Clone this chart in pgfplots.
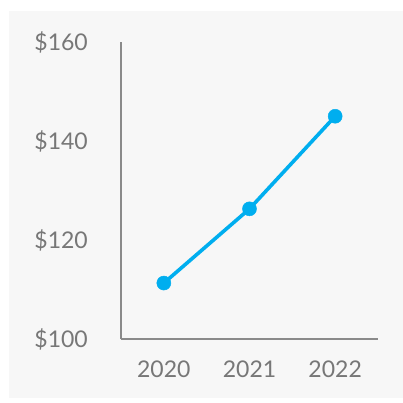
\documentclass[border=0pt]{standalone}
\usepackage{fontspec}
\setmainfont{Lato}
\usepackage{pgfplots}
\pgfplotsset{compat=1.18}
\definecolor{bg}{HTML}{F7F7F7}
\definecolor{ax}{HTML}{8A8A8A}
\definecolor{lbl}{HTML}{777777}
\definecolor{ln}{HTML}{00AEEF}
\begin{document}
\begin{tikzpicture}[x=1bp,y=1bp]
\fill[white] (0,0) rectangle (403,403);
\fill[bg] (9,5) rectangle (403,392);
\begin{axis}[
  at={(121bp,64bp)}, anchor=south west,
  scale only axis, width=257bp, height=297bp,
  xmin=-0.5, xmax=2.5, ymin=100, ymax=160,
  axis x line*=bottom, axis y line*=left,
  axis line style={draw=ax, line width=1.8bp, -},
  major tick length=0pt,
  xtick={0,1,2}, xticklabels={2020,2021,2022},
  ytick={100,120,140,160},
  yticklabels={\$100,\$120,\$140,\$160},
  ticklabel style={font=\fontsize{23bp}{27bp}\selectfont, text=lbl, inner sep=0pt},
  xticklabel style={anchor=base, yshift=-38bp},
  yticklabel style={anchor=base east, xshift=-33bp, yshift=-8bp},
  clip=false,
]
\addplot[color=ln, line width=3.6bp, mark=*, mark size=7bp,
  mark options={fill=ln, draw=ln, line width=0.5bp}]
  coordinates {(0,111.3) (1,126.3) (2,145.0)};
\end{axis}
\pgfresetboundingbox
\useasboundingbox (0,0) rectangle (403,403);
\end{tikzpicture}
\end{document}
